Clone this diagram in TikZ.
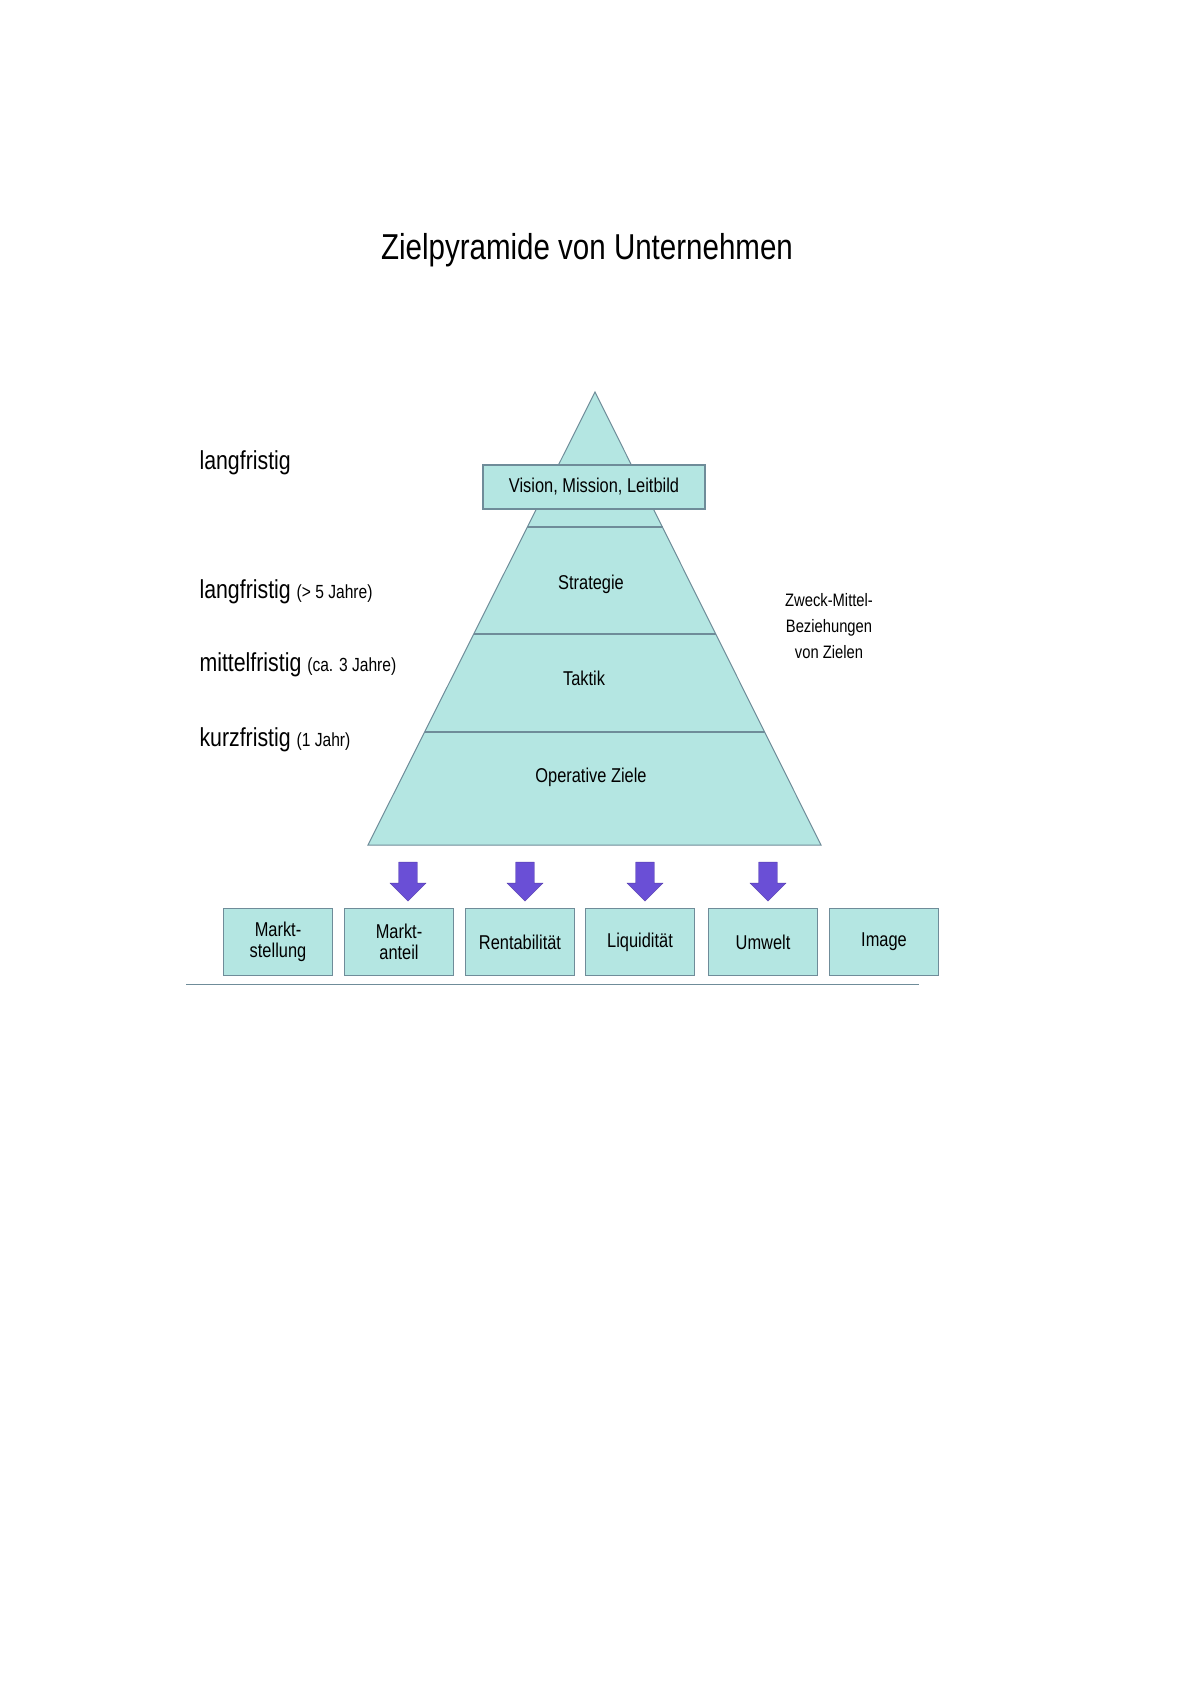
\documentclass[tikz,border=0pt]{standalone}
\usepackage{fontspec}
\setmainfont{Liberation Sans}[FakeStretch=0.82]
\usetikzlibrary{shapes.arrows}
\definecolor{teal1}{HTML}{B4E6E2}
\definecolor{edge1}{HTML}{6F8C99}
\definecolor{arr1}{HTML}{6A4FD6}
\begin{document}
\begin{tikzpicture}[x=1pt,y=-1pt,
  level/.style={font=\fontsize{20}{22}\selectfont},
  side/.style={anchor=west,font=\fontsize{26}{28}\selectfont},
  goal/.style={draw=edge1,fill=teal1,line width=1.2pt,minimum width=109,minimum height=67,align=center,font=\fontsize{20}{21}\selectfont,inner sep=1pt},
  down/.style={single arrow,fill=arr1,draw=arr1!80!black,rotate=-90,minimum height=39,minimum width=36,single arrow head extend=3,inner sep=3pt}]
\useasboundingbox (0,0) rectangle (1191,1684);
\node (title) at (587,250) {\fontsize{36}{40}\selectfont Zielpyramide von Unternehmen};
% pyramid
\coordinate (top) at (595,392);
\coordinate (bl) at (368,845);
\coordinate (br) at (821,845);
\draw[edge1,fill=teal1,line width=1pt] (top) -- (br) -- (bl) -- cycle;
\coordinate (l1) at (527,527); \coordinate (r1) at (663,527);
\coordinate (l2) at (474,634); \coordinate (r2) at (716,634);
\coordinate (l3) at (425,732); \coordinate (r3) at (765,732);
\draw[edge1,line width=1.2pt] (l1) -- (r1) (l2) -- (r2) (l3) -- (r3);
\node[draw=edge1,fill=teal1,line width=1.2pt,minimum width=222,minimum height=44,level] (vision) at (594,487) {Vision, Mission, Leitbild};
\node[level] (strat) at (591,584) {Strategie};
\node[level] (takt) at (584,678) {Taktik};
\node[level] (oper) at (591,777) {Operative Ziele};
% left labels
\node[side] (t0) at (196,463) {langfristig};
\node[side] (t1) at (196,592) {langfristig {\fontsize{19}{20}\selectfont(> 5 Jahre)}};
\node[side] (t2) at (196,665) {mittelfristig {\fontsize{19}{20}\selectfont(ca. 3 Jahre)}};
\node[side] (t3) at (196,740) {kurzfristig {\fontsize{19}{20}\selectfont(1 Jahr)}};
\node[align=center,font=\fontsize{18}{26}\selectfont] (zweck) at (829,626) {Zweck-Mittel-\\Beziehungen\\von Zielen};
% goals
\node[goal] (g1) at (278,942) {Markt-\\stellung};
\node[goal] (g2) at (399,942) {Markt-\\anteil};
\node[goal] (g3) at (520,942) {Rentabilität};
\node[goal] (g4) at (640,942) {Liquidität};
\node[goal] (g5) at (763,942) {Umwelt};
\node[goal] (g6) at (884,942) {Image};
\foreach \x/\n in {408/a1,525/a2,645/a3,768/a4}
  \node[down] (\n) at (\x,877) {};
\draw[edge1,line width=1pt] (186,984) -- (919,984);
\end{tikzpicture}
\end{document}
